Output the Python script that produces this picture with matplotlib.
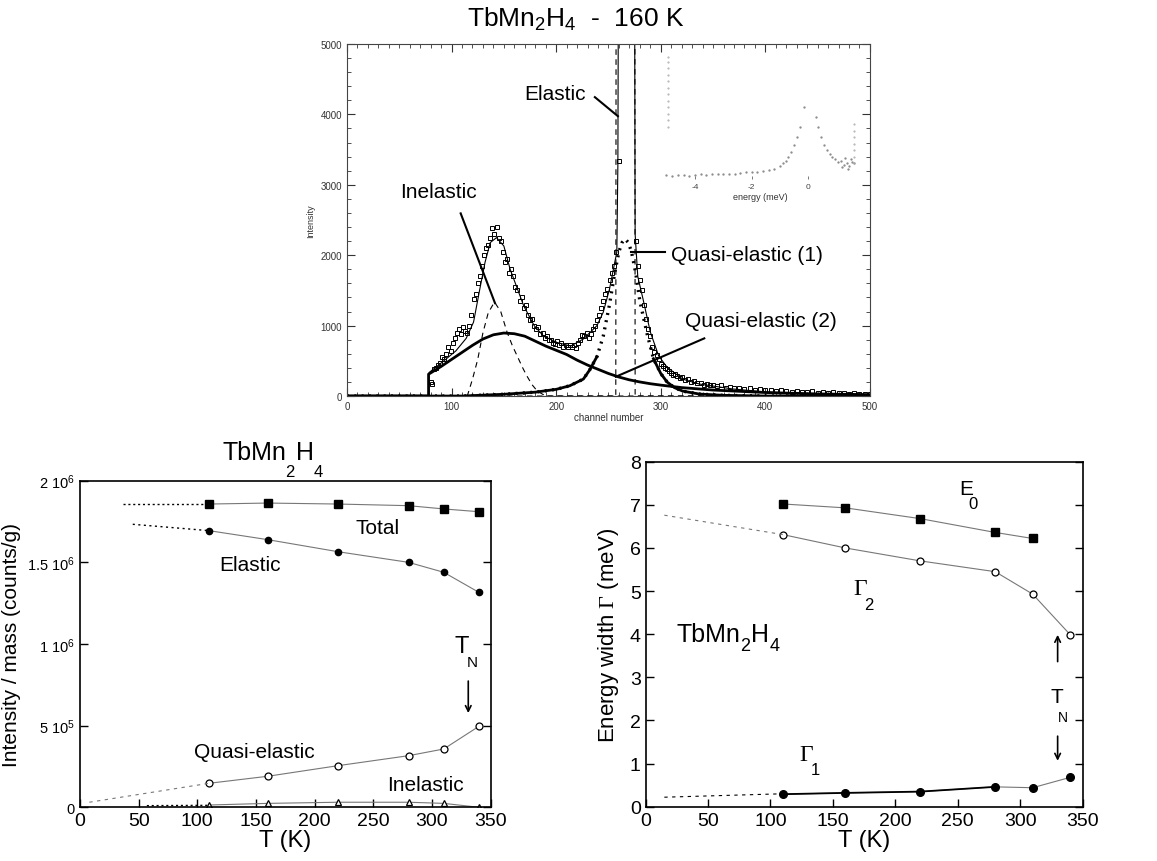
import numpy as np
import matplotlib.pyplot as plt

plt.rcParams['font.family'] = ['Liberation Sans', 'DejaVu Sans']
plt.rcParams['mathtext.fontset'] = 'custom'
plt.rcParams['mathtext.rm'] = 'Liberation Sans'
plt.rcParams['mathtext.it'] = 'Liberation Sans:italic'
plt.rcParams['mathtext.sf'] = 'Liberation Serif'
plt.rcParams['axes.unicode_minus'] = False

# ---- top panel: spectrum at 160 K (channel number, counts) ----
sq_ch = [80, 81, 83, 85, 87, 89, 91, 93, 95, 97, 99, 101, 103, 105, 107, 109, 111, 113, 115, 117,
         119, 121, 123, 125, 127, 129, 131, 133, 135, 137, 139, 141, 143, 145, 147, 149, 151, 153,
         155, 157, 159, 161, 163, 165, 167, 169, 171, 173, 175, 177, 179, 181, 183, 185, 187, 189,
         191, 193, 195, 197, 199, 201, 203, 205, 207, 209, 211, 213, 215, 217, 219, 221, 223, 225,
         227, 229, 231, 233, 235, 237, 239, 241, 243, 245, 247, 249, 251, 253, 255, 257, 260,
         276, 278, 280, 282, 284, 286, 288, 290, 292, 294, 296, 298, 300, 302, 304, 306, 308, 310,
         312, 314, 316, 318, 320, 323, 326, 329, 332, 335, 338, 341, 344, 347, 350, 354, 358, 362,
         366, 370, 375, 380, 385, 390, 395, 400, 405, 410, 415, 420, 425, 430, 435, 440, 445, 450,
         455, 460, 465, 470, 475, 480, 485, 490, 495, 500]
sq_val = [200, 170, 380, 400, 440, 470, 560, 520, 600, 700, 640, 760, 820, 900, 950, 880, 980, 920,
          900, 1000, 1150, 1380, 1450, 1600, 1700, 1850, 2000, 2100, 2150, 2250, 2380, 2300, 2400,
          2250, 2200, 2050, 1900, 1950, 1750, 1800, 1700, 1550, 1500, 1350, 1400, 1250, 1300, 1150,
          1080, 1100, 1000, 950, 980, 880, 900, 820, 850, 790, 800, 760, 740, 780, 720, 750, 700, 720,
          690, 730, 700, 720, 680, 760, 800, 870, 850, 900, 830, 880, 950, 1000, 1080, 1150, 1250,
          1350, 1450, 1520, 1650, 1750, 1850, 2050, 3340,
          2200, 1850, 1650, 1500, 1300, 1100, 950, 850, 700, 620, 580, 520, 460, 430, 400, 380, 350,
          330, 300, 320, 280, 250, 270, 230, 240, 200, 210, 180, 190, 160, 170, 150, 160, 140, 150,
          120, 130, 110, 120, 100, 110, 90, 100, 80, 90, 70, 80, 70, 60, 75, 60, 55, 70, 50, 60, 45,
          55, 40, 50, 35, 45, 30, 35, 25]

fit_ch = [0, 78, 78, 79, 91, 104, 114, 121, 127, 132, 137, 143, 150, 156, 163, 169, 179, 188, 201,
          214, 226, 239, 245, 251, 256, 258, 259, 259.5, 275, 275.5, 278, 283, 290, 298, 306, 321,
          337, 369, 401, 449, 500]
fit_val = [0, 0, 320, 340, 480, 640, 820, 1050, 1520, 1900, 2180, 2250, 2130, 1800, 1520, 1280,
           1000, 850, 760, 710, 810, 1000, 1190, 1520, 1900, 2040, 3300, 6000, 6000, 2300, 1700,
           1380, 910, 570, 410, 240, 170, 100, 57, 28, 10]

el_ch = [0, 257, 257.3, 275.2, 275.5, 500]
el_val = [0, 0, 6000, 6000, 0, 0]

inel_ch = [0, 115, 120, 125, 130, 135, 141, 147, 153, 158, 163, 168, 172, 177, 182, 190, 500]
inel_val = [0, 0, 240, 520, 900, 1180, 1335, 1200, 910, 720, 560, 400, 285, 160, 70, 0, 0]

qe2_ch = [0, 78, 78, 90, 100, 110, 120, 130, 140, 150, 160, 170, 180, 190, 200, 210, 220, 230, 240,
          250, 260, 270, 280, 290, 300, 320, 350, 400, 450, 500]
qe2_val = [0, 0, 310, 420, 520, 620, 720, 810, 870, 895, 885, 850, 780, 710, 650, 590, 510, 440,
           380, 320, 270, 230, 200, 175, 155, 120, 85, 50, 30, 20]

qe1_ch = [0, 110, 150, 180, 200, 213, 226, 232, 239, 245, 251, 256, 260, 263, 266, 269, 272, 276,
          280, 287, 293, 300, 306, 313, 321, 337, 360, 400, 500]
qe1_val = [0, 0, 25, 55, 95, 146, 241, 370, 560, 850, 1300, 1750, 2050, 2180, 2230, 2180, 2050,
           1750, 1350, 880, 530, 320, 200, 120, 70, 28, 10, 0, 0]

# inset (energy in meV, arbitrary height)
ins_e = [-5.0, -4.8, -4.6, -4.4, -4.2, -4.0, -3.8, -3.6, -3.4, -3.2, -3.0, -2.8, -2.6, -2.4, -2.2,
         -2.0, -1.8, -1.6, -1.4, -1.2, -1.0, -0.9, -0.8, -0.7, -0.6, -0.5, -0.4, -0.3, -0.14,
         0.28, 0.35, 0.45, 0.55, 0.65, 0.75, 0.85, 0.95, 1.05, 1.15, 1.25, 1.35, 1.45, 1.55,
         1.2, 1.3, 1.4, 1.5, 1.6]
ins_y = [0.03, 0.02, 0.03, 0.03, 0.025, 0.03, 0.035, 0.03, 0.035, 0.04, 0.035, 0.04, 0.04, 0.045,
         0.05, 0.05, 0.055, 0.06, 0.07, 0.08, 0.10, 0.12, 0.14, 0.17, 0.21, 0.26, 0.32, 0.40, 0.55,
         0.48, 0.40, 0.32, 0.26, 0.22, 0.19, 0.17, 0.15, 0.13, 0.14, 0.11, 0.12, 0.10, 0.13,
         0.09, 0.16, 0.08, 0.15, 0.12]
ins_v1_y = [0.40, 0.45, 0.50, 0.55, 0.60, 0.65, 0.70, 0.75, 0.80, 0.85, 0.90, 0.94]
ins_v2_y = [0.12, 0.17, 0.22, 0.27, 0.32, 0.37, 0.42]

# ---- bottom left: intensities vs T ----
T = [110, 160, 220, 280, 310, 340]
total = [1.857e6, 1.863e6, 1.857e6, 1.847e6, 1.827e6, 1.810e6]
elastic = [1.694e6, 1.639e6, 1.565e6, 1.500e6, 1.439e6, 1.316e6]
quasi = [1.47e5, 1.90e5, 2.55e5, 3.16e5, 3.57e5, 4.96e5]
inelastic = [1.4e4, 2.4e4, 3.1e4, 3.1e4, 2.4e4, 0]
ext_total_T, ext_total = [37, 110], [1.857e6, 1.857e6]
ext_el_T, ext_el = [45, 110], [1.733e6, 1.694e6]
ext_qe_T, ext_qe = [8, 110], [3.1e4, 1.47e5]
ext_in_T, ext_in = [57, 110], [1.0e4, 1.2e4]

# ---- bottom right: energy widths vs T ----
T_e0 = [110, 160, 220, 280, 310]
e0 = [7.02, 6.93, 6.68, 6.36, 6.22]
gamma2 = [6.31, 6.00, 5.70, 5.45, 4.93, 3.99]
gamma1 = [0.29, 0.32, 0.35, 0.46, 0.44, 0.68]
ext_g2_T, ext_g2 = [15, 110], [6.76, 6.31]
ext_g1_T, ext_g1 = [15, 110], [0.22, 0.30]

fig = plt.figure(figsize=(11.57, 8.62), dpi=100)

# ================= top panel =================
ax = fig.add_axes([0.2999, 0.5394, 0.452, 0.4084])
ax.plot(qe2_ch, qe2_val, color='black', lw=2.0)
ax.plot(inel_ch, inel_val, color='black', lw=0.8, dashes=(5, 4))
ax.plot(el_ch, el_val, color='black', lw=0.8, dashes=(5, 4))
qe1 = np.array(qe1_val, dtype=float)
ax.plot(qe1_ch, qe1, color='black', lw=2.4, linestyle=(0, (0.6, 1.6)))
ax.plot(qe1_ch, np.ma.masked_where(qe1 > 560, qe1), color='black', lw=2.0)
ax.plot(fit_ch, fit_val, color='black', lw=0.8)
ax.plot(sq_ch, sq_val, 's', mfc='none', mec='black', ms=3.2, mew=0.7)
ax.set_xlim(0, 500)
ax.set_ylim(0, 5000)
ax.set_xticks(np.arange(0, 501, 100))
ax.set_xticks(np.arange(0, 501, 10), minor=True)
ax.set_yticks(np.arange(0, 5001, 1000))
ax.set_yticks(np.arange(0, 5001, 200), minor=True)
ax.tick_params(which='both', direction='in', top=True, right=True, labelsize=7, colors='#333333')
ax.tick_params(which='major', length=6, width=0.8)
ax.tick_params(which='minor', length=3, width=0.6)
for s in ax.spines.values():
    s.set_linewidth(0.8)
    s.set_color('#444444')
ax.set_xlabel('channel number', fontsize=7, labelpad=1, color='#333333')
ax.set_ylabel('Intensity', fontsize=6.5, labelpad=4, color='#333333')

ax.text(199, 4290, 'Elastic', fontsize=15, ha='center', va='center')
ax.plot([237, 259], [4245, 3975], color='black', lw=1.5)
ax.text(87, 2910, 'Inelastic', fontsize=15, ha='center', va='center')
ax.plot([108.7, 141.5], [2594, 1320], color='black', lw=1.5)
ax.text(382, 2016, 'Quasi-elastic (1)', fontsize=15, ha='center', va='center')
ax.plot([272, 304], [2040, 2040], color='black', lw=1.5)
ax.text(396, 1069, 'Quasi-elastic (2)', fontsize=15, ha='center', va='center')
ax.plot([257, 341.6], [274, 819], color='black', lw=1.5)

fig.text(0.498, 0.977, 'TbMn$_2$H$_4$  -  160 K', fontsize=19, ha='center', va='center')

# inset
ai = fig.add_axes([0.5704, 0.7912, 0.1729, 0.1508])
ai.plot(ins_e, ins_y, '.', color='#888888', ms=1.3)
ai.plot([-4.93] * len(ins_v1_y), ins_v1_y, '.', color='#aaaaaa', ms=1.0)
ai.plot([1.62] * len(ins_v2_y), ins_v2_y, '.', color='#aaaaaa', ms=1.0)
ai.set_xlim(-5.23, 1.82)
ai.set_ylim(0, 1)
ai.patch.set_alpha(0)
for s in ai.spines.values():
    s.set_visible(False)
ai.set_yticks([])
ai.set_xticks([-4, -2, 0])
ai.tick_params(axis='x', direction='in', length=2, width=0.5, labelsize=6, pad=3, colors='#444444')
ai.set_xlabel('energy (meV)', fontsize=6.5, labelpad=1, color='#333333')

# ================= bottom left =================
al = fig.add_axes([0.0691, 0.0623, 0.355, 0.3789])
gray = '#777777'
al.plot(T, total, color=gray, lw=0.8)
al.plot(T, total, 's', color='black', ms=5.5)
al.plot(T, elastic, color=gray, lw=0.8)
al.plot(T, elastic, 'o', color='black', ms=4.5)
al.plot(T, quasi, color=gray, lw=0.8)
al.plot(T, quasi, 'o', mfc='white', mec='black', ms=5, mew=0.9)
al.plot(T, inelastic, color=gray, lw=0.8)
al.plot(T, inelastic, '^', mfc='white', mec='black', ms=4.5, mew=0.9)
al.plot(ext_total_T, ext_total, color='black', lw=1.0, linestyle=(0, (1.5, 2)))
al.plot(ext_el_T, ext_el, color='black', lw=1.0, linestyle=(0, (1.5, 2.5)))
al.plot(ext_qe_T, ext_qe, color=gray, lw=0.8, linestyle=(0, (3, 4)))
al.plot(ext_in_T, ext_in, color='black', lw=1.0, linestyle=(0, (1.5, 2)))
al.set_xlim(0, 350)
al.set_ylim(0, 2e6)
al.set_xticks(np.arange(0, 351, 50))
al.set_yticks([0, 5e5, 1e6, 1.5e6, 2e6])
al.set_yticklabels(['0', '5 10$^5$', '1 10$^6$', '1.5 10$^6$', '2 10$^6$'], fontsize=10.5)
al.tick_params(axis='x', labelsize=14)
al.tick_params(direction='in', right=True, length=6, width=1.0)
for s in al.spines.values():
    s.set_linewidth(1.2)
al.set_xlabel('T (K)', fontsize=17, labelpad=0)
al.set_ylabel('Intensity / mass (counts/g)', fontsize=15, labelpad=4)

al.text(253.7, 1.712e6, 'Total', fontsize=15, ha='center', va='center')
al.text(144.8, 1.485e6, 'Elastic', fontsize=15, ha='center', va='center')
al.text(148.3, 3.43e5, 'Quasi-elastic', fontsize=15, ha='center', va='center')
al.text(294, 1.37e5, 'Inelastic', fontsize=15, ha='center', va='center')
al.text(325.2, 9.9e5, 'T', fontsize=17, ha='center', va='center')
al.text(334.5, 8.9e5, 'N', fontsize=11, ha='center', va='center')
al.annotate('', xy=(330.9, 5.6e5), xytext=(330.9, 7.9e5),
            arrowprops=dict(arrowstyle='->', color='black', lw=1.2))

fig.text(0.1925, 0.4745, 'TbMn', fontsize=18, ha='left', va='center')
fig.text(0.2506, 0.4513, '2', fontsize=12, ha='center', va='center')
fig.text(0.2636, 0.4745, 'H', fontsize=18, ha='center', va='center')
fig.text(0.2751, 0.4513, '4', fontsize=12, ha='center', va='center')

# ================= bottom right =================
ar = fig.add_axes([0.558, 0.063, 0.3777, 0.4002])
ar.plot(T_e0, e0, color=gray, lw=0.8)
ar.plot(T_e0, e0, 's', color='black', ms=6)
ar.plot(T, gamma2, color=gray, lw=0.8)
ar.plot(T, gamma2, 'o', mfc='white', mec='black', ms=5, mew=0.9)
ar.plot(T, gamma1, color=gray, lw=0.8)
ar.plot(T[:4], gamma1[:4], color='black', lw=1.3)
ar.plot(T, gamma1, 'o', color='black', ms=5.5)
ar.plot(ext_g2_T, ext_g2, color=gray, lw=0.8, linestyle=(0, (3, 4)))
ar.plot(ext_g1_T, ext_g1, color='black', lw=0.8, linestyle=(0, (3, 4)))
ar.set_xlim(0, 350)
ar.set_ylim(0, 8)
ar.set_xticks(np.arange(0, 351, 50))
ar.set_yticks(np.arange(0, 9, 1))
ar.tick_params(labelsize=14)
ar.tick_params(direction='in', right=True, length=6, width=1.0)
for s in ar.spines.values():
    s.set_linewidth(1.2)
ar.set_xlabel('T (K)', fontsize=17, labelpad=0)
ar.set_ylabel(r'Energy width $\mathsf{\Gamma}$ (meV)', fontsize=16, labelpad=6)

ar.text(257.1, 7.37, 'E', fontsize=15, ha='center', va='center')
ar.text(262.4, 7.02, '0', fontsize=12, ha='center', va='center')
ar.text(171.6, 5.05, 'Γ', fontsize=17, family='Liberation Serif', ha='center', va='center')
ar.text(179.1, 4.70, '2', fontsize=12, ha='center', va='center')
ar.text(128.9, 1.22, 'Γ', fontsize=17, family='Liberation Serif', ha='center', va='center')
ar.text(135.6, 0.87, '1', fontsize=12, ha='center', va='center')
ar.text(24.6, 4.0, 'TbMn', fontsize=18, ha='left', va='center')
ar.text(79.5, 3.74, '2', fontsize=13, ha='center', va='center')
ar.text(91.5, 4.0, 'H', fontsize=18, ha='center', va='center')
ar.text(103.5, 3.74, '4', fontsize=13, ha='center', va='center')
ar.text(329.2, 2.55, 'T', fontsize=15, ha='center', va='center')
ar.text(334.5, 2.08, 'N', fontsize=10, ha='center', va='center')
ar.annotate('', xy=(330, 4.05), xytext=(330, 3.3),
            arrowprops=dict(arrowstyle='->', color='black', lw=1.2))
ar.annotate('', xy=(330, 1.0), xytext=(330, 1.7),
            arrowprops=dict(arrowstyle='->', color='black', lw=1.2))

fig.savefig('out.png', dpi=100)
